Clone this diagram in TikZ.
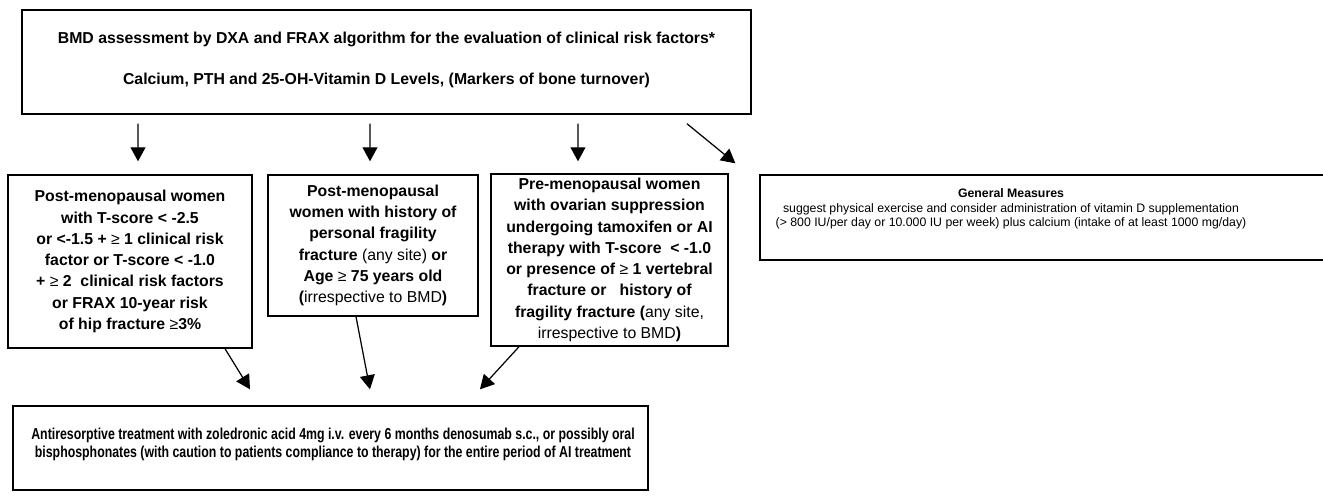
\documentclass[tikz,border=0pt]{standalone}
\usepackage{fontspec}
\setmainfont{Liberation Sans}
\newfontfamily\narrowsans[FakeStretch=0.78]{Liberation Sans}
\usetikzlibrary{arrows.meta}

\begin{document}
\begin{tikzpicture}[x=0.02cm, y=-0.02cm,
		box/.style={rectangle, draw, line width=0.8pt, inner sep=0pt},
		crit/.style={box, align=center, font=\fontsize{9}{12.1}\selectfont\bfseries},
		arr/.style={-{Triangle[length=8pt, width=8.5pt]}, line width=0.7pt}]
		\clip (0,0) rectangle (1323,498);
		
		\node[box, minimum width=14.58cm, minimum height=2.08cm] (bmd) at (386.5,62) {};
		\node[align=center, font=\fontsize{9}{11}\selectfont\bfseries] (bmdtext) at (386.5,60) {BMD assessment by DXA and FRAX algorithm for the evaluation of clinical risk factors*\\[12pt]Calcium, PTH and 25-OH-Vitamin D Levels, (Markers of bone turnover)};
		
		\node[crit, minimum width=4.88cm, minimum height=3.46cm] (post1) at (130,261.5) {Post-menopausal women\\with T-score < -2.5\\or <-1.5 + {\mdseries≥} 1 clinical risk\\factor or T-score < -1.0\\+ {\mdseries≥} 2\ \ clinical risk factors\\or FRAX 10-year risk\\of hip fracture {\mdseries≥}3\%};
		\node[crit, minimum width=4.2cm, minimum height=2.82cm] (post2) at (373,245.5) {Post-menopausal\\women with history of\\personal fragility\\fracture {\mdseries(any site)} or\\Age {\mdseries≥} 75 years old\\({\mdseries irrespective to BMD})};
		\node[crit, minimum width=4.74cm, minimum height=3.44cm] (pre) at (609.5,260) {Pre-menopausal women\\with ovarian suppression\\undergoing tamoxifen or AI\\therapy with T-score\ \ < -1.0\\or presence of {\mdseries≥} 1 vertebral\\fracture or\ \ \ history of\\fragility fracture ({\mdseries any site,}\\{\mdseries irrespective to BMD})};
		
		\node[box, minimum width=11.4cm, minimum height=1.7cm] (gen) at (1045,217.5) {};
		\node[align=center, font=\fontsize{7}{8.3}\selectfont] (gentext) at (1011,209) {\textbf{General Measures}\\suggest physical exercise and consider administration of vitamin D supplementation\\(> 800 IU/per day or 10.000 IU per week) plus calcium (intake of at least 1000 mg/day)};
		
		\node[box, minimum width=12.7cm, minimum height=1.68cm] (treat) at (330.5,448) {};
		\node[align=center, font=\fontsize{9}{10.3}\selectfont\narrowsans\bfseries] (treattext) at (333,444) {Antiresorptive treatment with zoledronic acid 4mg i.v. every 6 months denosumab s.c., or possibly oral\\bisphosphonates (with caution to patients compliance to therapy) for the entire period of AI treatment};
		
		\draw[arr] ([xshift=-4.97cm, yshift=-0.18cm]bmd.south) -- ([xshift=0.16cm, yshift=0.26cm]post1.north);
		\draw[arr] ([xshift=-0.33cm, yshift=-0.18cm]bmd.south) -- ([xshift=-0.06cm, yshift=0.26cm]post2.north);
		\draw[arr] ([xshift=3.83cm, yshift=-0.18cm]bmd.south) -- ([xshift=-0.63cm, yshift=0.24cm]pre.north);
		\draw[arr] ([xshift=6.01cm, yshift=-0.18cm]bmd.south) -- ([xshift=-0.48cm, yshift=0.22cm]gen.north west);
		
		\draw[arr] ([xshift=1.9cm]post1.south) -- ([xshift=-1.61cm, yshift=0.32cm]treat.north);
		\draw[arr] ([xshift=-0.34cm]post2.south) -- ([xshift=0.79cm, yshift=0.32cm]treat.north);
		\draw[arr] ([xshift=-1.81cm]pre.south) -- ([xshift=2.99cm, yshift=0.32cm]treat.north);
	\end{tikzpicture}
\end{document}
